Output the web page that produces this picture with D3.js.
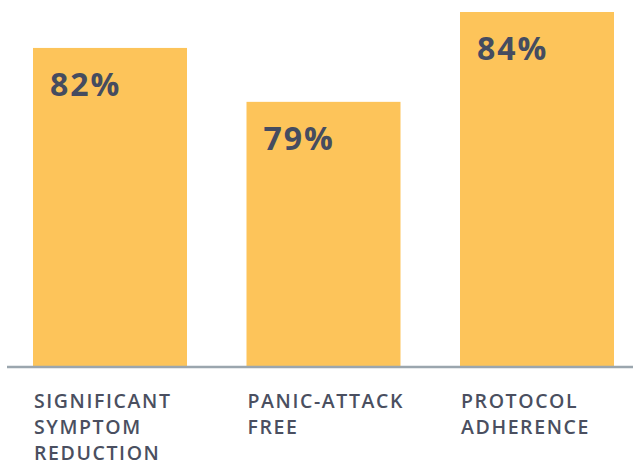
<!DOCTYPE html>
<html lang="en">
<head>
    <meta charset="UTF-8">
    <title>Outcomes</title>
    <script src="https://d3js.org/d3.v7.min.js"></script>
    <style>
        body {
            margin: 0;
            background: #fff;
        }

        .bar {
            fill: #fdc45a;
        }

        .value {
            font-family: "Open Sans", Arial, sans-serif;
            font-weight: 700;
            font-size: 32px;
            letter-spacing: 2px;
            fill: #454c60;
        }

        .cat {
            font-family: "Open Sans", Arial, sans-serif;
            font-weight: 600;
            font-size: 19.5px;
            letter-spacing: 1.6px;
            fill: #4a4f60;
        }

        .baseline {
            stroke: #9ba6ae;
            stroke-width: 2.5px;
        }
    </style>
</head>
<body>
    <div id="chart"></div>

    <script>
        // chart data
        const categories = ['SIGNIFICANT SYMPTOM REDUCTION', 'PANIC-ATTACK FREE', 'PROTOCOL ADHERENCE'];
        const labelLines = [
            ['SIGNIFICANT', 'SYMPTOM', 'REDUCTION'],
            ['PANIC-ATTACK', 'FREE'],
            ['PROTOCOL', 'ADHERENCE']
        ];
        const values = [82, 79, 84];

        const width = 633, height = 464;

        const svg = d3.select('#chart').append('svg')
            .attr('width', width)
            .attr('height', height);

        const x = d3.scaleBand()
            .domain(categories)
            .range([33, 614])
            .paddingInner(0.2787)
            .paddingOuter(0);

        const y = d3.scaleLinear()
            .domain([64.3, 84])
            .range([366, 12]);

        const data = categories.map((c, i) => ({ cat: c, value: values[i], lines: labelLines[i] }));

        svg.selectAll('.bar')
            .data(data)
            .enter().append('rect')
            .attr('class', 'bar')
            .attr('x', d => x(d.cat))
            .attr('y', d => y(d.value))
            .attr('width', x.bandwidth())
            .attr('height', d => y.range()[0] - y(d.value));

        // axis line along the bottom
        svg.append('line')
            .attr('class', 'baseline')
            .attr('x1', 7)
            .attr('x2', width)
            .attr('y1', y.range()[0] + 1)
            .attr('y2', y.range()[0] + 1);

        svg.selectAll('.value')
            .data(data)
            .enter().append('text')
            .attr('class', 'value')
            .attr('x', d => x(d.cat) + 17)
            .attr('y', d => y(d.value) + 48)
            .text(d => d.value + '%');

        const labels = svg.selectAll('.cat')
            .data(data)
            .enter().append('text')
            .attr('class', 'cat')
            .attr('x', d => x(d.cat) + 1)
            .attr('y', 408);

        labels.selectAll('tspan')
            .data(d => d.lines)
            .enter().append('tspan')
            .attr('x', function() { return d3.select(this.parentNode).attr('x'); })
            .attr('dy', (d, i) => i === 0 ? 0 : 26)
            .text(d => d);
    </script>
</body>
</html>
